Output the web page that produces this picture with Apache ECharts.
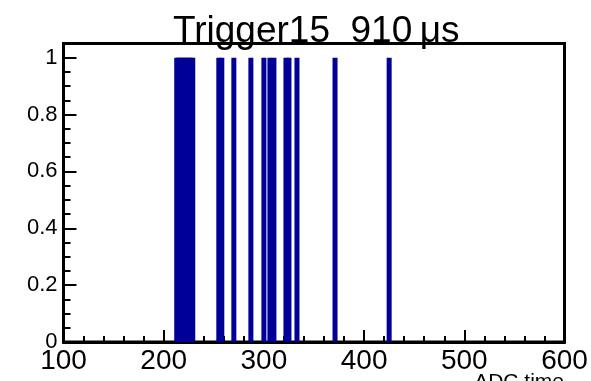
<!DOCTYPE html>
<html>
<head>
<meta charset="utf-8">
<script src="https://cdn.jsdelivr.net/npm/echarts@6/dist/echarts.min.js"></script>
<style>
  html, body { margin: 0; padding: 0; background: #fff; }
  #chart { width: 591px; height: 381px; }
</style>
</head>
<body>
<div id="chart"></div>
<script>
// Filled ADC-time bins (each holds one entry)
const binCenters = [213, 215, 217, 219, 221, 223, 225, 227, 229,
                    255, 258, 270, 287, 300, 306, 310, 322, 325,
                    333, 371, 425];
const binCounts  = [1, 1, 1, 1, 1, 1, 1, 1, 1,
                    1, 1, 1, 1, 1, 1, 1, 1, 1,
                    1, 1, 1];
const xTicks = [100, 200, 300, 400, 500, 600];
const yTicks = [0, 0.2, 0.4, 0.6, 0.8, 1];

const titleText = 'Trigger15  910\u2009\u03bcs';
const xTitle = 'ADC time';

const font = '"Liberation Sans", Arial, Helvetica, sans-serif';
const chart = echarts.init(document.getElementById('chart'), null, { renderer: 'canvas' });

const data = binCenters.map((x, i) => [x, binCounts[i]]);

chart.setOption({
  animation: false,
  title: [
    {
      text: titleText,
      left: 173,
      top: 13,
      padding: 0,
      textStyle: { fontFamily: font, fontSize: 37, fontWeight: 'normal', color: '#000', lineHeight: 37 }
    },
    {
      text: xTitle,
      right: 27,
      top: 372,
      padding: 0,
      textStyle: { fontFamily: font, fontSize: 21, fontWeight: 'normal', color: '#000', lineHeight: 21 }
    }
  ],
  grid: {
    left: 63.5, right: 26.5, top: 43.5, bottom: 39,
    show: true, borderColor: '#000', borderWidth: 3, backgroundColor: 'transparent'
  },
  xAxis: {
    type: 'value',
    min: xTicks[0], max: xTicks[xTicks.length - 1], interval: 100,
    axisLine: { show: true, onZero: false, lineStyle: { color: '#000', width: 3 } },
    axisTick: { show: true, inside: true, length: 12, lineStyle: { color: '#000', width: 2 } },
    minorTick: { show: true, splitNumber: 5, length: 6, lineStyle: { color: '#000', width: 2 } },
    splitLine: { show: false },
    axisLabel: {
      margin: 5, color: '#000', fontFamily: font, fontSize: 28, lineHeight: 28,
      showMinLabel: true, showMaxLabel: true
    }
  },
  yAxis: {
    type: 'value',
    min: 0, max: 1.05, interval: 0.2,
    axisLine: { show: true, onZero: false, lineStyle: { color: '#000', width: 3 } },
    axisTick: { show: true, inside: true, length: 13, lineStyle: { color: '#000', width: 2 } },
    minorTick: { show: true, splitNumber: 4, length: 7, lineStyle: { color: '#000', width: 2 } },
    splitLine: { show: false },
    axisLabel: {
      margin: 6, color: '#000', fontFamily: font, fontSize: 22,
      showMaxLabel: false,
      formatter: v => (yTicks.some(t => Math.abs(t - v) < 1e-9) ? String(+v.toFixed(1)) : '')
    }
  },
  series: [{
    type: 'bar',
    data: data,
    barWidth: 5,
    itemStyle: { color: '#000099' },
    silent: true
  }]
});
</script>
</body>
</html>
